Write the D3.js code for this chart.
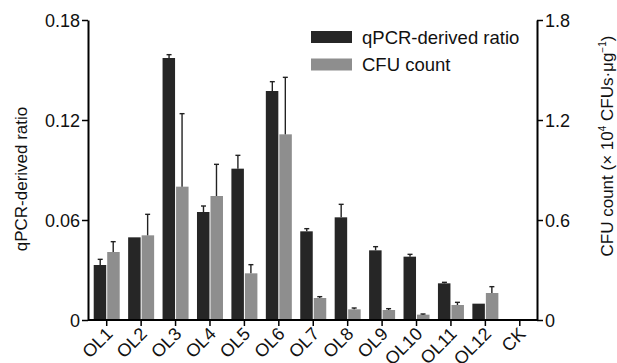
<!DOCTYPE html>
<html>
<head>
<meta charset="utf-8">
<script src="https://cdn.jsdelivr.net/npm/d3@7"></script>
<style>
  body { margin: 0; background: #fff; }
  text { font-family: "Liberation Sans", Arial, sans-serif; }
</style>
</head>
<body>
<script>
// categories and values
const samples = ['OL1', 'OL2', 'OL3', 'OL4', 'OL5', 'OL6', 'OL7', 'OL8', 'OL9', 'OL10', 'OL11', 'OL12', 'CK'];
const qpcrRatio = [0.033, 0.0496, 0.1572, 0.0648, 0.0908, 0.1374, 0.0532, 0.0616, 0.0418, 0.038, 0.022, 0.0098, 0];
const qpcrErr   = [0.0034, 0.0003, 0.002, 0.0036, 0.008, 0.0056, 0.0016, 0.0078, 0.0022, 0.0014, 0.0006, 0.0002, 0];
const cfuCount  = [0.408, 0.508, 0.80, 0.744, 0.28, 1.114, 0.132, 0.064, 0.06, 0.032, 0.09, 0.162, 0];
const cfuErr    = [0.062, 0.126, 0.438, 0.19, 0.052, 0.342, 0.008, 0.008, 0.008, 0.004, 0.016, 0.038, 0];
const leftTicks = [0, 0.06, 0.12, 0.18];
const rightTicks = [0, 0.6, 1.2, 1.8];

const width = 617, height = 363;
const margin = { top: 20, right: 80, bottom: 43, left: 88 };

const svg = d3.select('body').append('svg')
    .attr('width', width)
    .attr('height', height);

const x = d3.scaleBand()
    .domain(samples)
    .range([89.5, 537])
    .padding(0);

const yL = d3.scaleLinear()
    .domain([0, 0.18])
    .range([height - margin.bottom, margin.top]);

const yR = d3.scaleLinear()
    .domain([0, 1.8])
    .range([height - margin.bottom, margin.top]);

const barW = 13;
const dark = '#262626', grey = '#8e8e8e';
const fs = '18px';

const rows = samples.map((s, i) => ({
    s, q: qpcrRatio[i], qe: qpcrErr[i], c: cfuCount[i], ce: cfuErr[i]
}));

// Oszlopok
const g = svg.append('g');
g.selectAll('.bar-q')
    .data(rows)
    .enter()
    .append('rect')
    .attr('class', 'bar-q')
    .attr('x', d => x(d.s) + x.bandwidth() / 2 - barW)
    .attr('y', d => yL(d.q))
    .attr('width', barW - 0.5)
    .attr('height', d => yL(0) - yL(d.q))
    .attr('fill', dark);

g.selectAll('.bar-c')
    .data(rows)
    .enter()
    .append('rect')
    .attr('class', 'bar-c')
    .attr('x', d => x(d.s) + x.bandwidth() / 2 + 0.5)
    .attr('y', d => yR(d.c))
    .attr('width', barW - 0.5)
    .attr('height', d => yR(0) - yR(d.c))
    .attr('fill', grey);

// Hibasávok (csak felfelé)
function errBars(data, cx, yTop, yEnd) {
    const eg = g.append('g')
        .attr('stroke', '#222')
        .attr('stroke-width', 1.4);
    data.filter(d => yEnd(d) < yTop(d) - 0.6).forEach(d => {
        eg.append('line')
            .attr('x1', cx(d)).attr('x2', cx(d))
            .attr('y1', yTop(d)).attr('y2', yEnd(d));
        eg.append('line')
            .attr('x1', cx(d) - 2.5).attr('x2', cx(d) + 2.5)
            .attr('y1', yEnd(d)).attr('y2', yEnd(d));
    });
}
errBars(rows.filter(d => d.q > 0),
    d => x(d.s) + x.bandwidth() / 2 - barW / 2,
    d => yL(d.q), d => yL(d.q + d.qe));
errBars(rows.filter(d => d.c > 0),
    d => x(d.s) + x.bandwidth() / 2 + barW / 2,
    d => yR(d.c), d => yR(d.c + d.ce));

// Tengelyek
const fmt = d => d === 0 ? '0' : String(d);
const axisL = svg.append('g')
    .attr('transform', `translate(${margin.left}, 0)`)
    .call(d3.axisLeft(yL).tickValues(leftTicks).tickFormat(fmt).tickSize(6).tickSizeOuter(0));

const axisR = svg.append('g')
    .attr('transform', `translate(537, 0)`)
    .call(d3.axisRight(yR).tickValues(rightTicks).tickFormat(fmt).tickSize(6).tickSizeOuter(0));

const axisB = svg.append('g')
    .attr('transform', `translate(0, ${yL(0)})`)
    .call(d3.axisBottom(x).tickSize(6).tickSizeOuter(0));

[axisL, axisR, axisB].forEach(a => {
    a.select('.domain').attr('stroke', '#000').attr('stroke-width', 2);
    a.selectAll('.tick line').attr('stroke', '#000').attr('stroke-width', 1.5);
    a.selectAll('.tick text')
        .attr('fill', '#111')
        .style('font-size', fs);
});
axisB.select('.domain').attr('d', `M${margin.left},0H537`);

axisL.selectAll('.tick text').attr('x', -8).attr('dy', '0.36em');
axisR.selectAll('.tick text').attr('x', 8).attr('dy', '0.36em');

// x feliratok 45 fokkal elforgatva
axisB.selectAll('.tick text')
    .attr('text-anchor', 'end')
    .attr('x', 0).attr('y', 0).attr('dy', 0)
    .attr('transform', 'translate(7, 15) rotate(-45)');

// Tengelycímek
svg.append('text')
    .attr('transform', `translate(27, ${(yL(0) + yL(0.18)) / 2 + 9}) rotate(-90)`)
    .attr('text-anchor', 'middle')
    .attr('fill', '#111')
    .style('font-size', '17px')
    .text('qPCR-derived ratio');

const rt = svg.append('text')
    .attr('transform', `translate(613, ${(yR(0) + yR(1.8)) / 2 - 24}) rotate(-90)`)
    .attr('text-anchor', 'middle')
    .attr('fill', '#111')
    .style('font-size', '17px');
rt.append('tspan').text('CFU count (× 10');
rt.append('tspan').attr('dy', -7).style('font-size', '10px').text('4');
rt.append('tspan').attr('dy', 7).text(' CFUs·μg');
rt.append('tspan').attr('dy', -7).style('font-size', '10px').text('−1');
rt.append('tspan').attr('dy', 7).text(')');

// Jelmagyarázat
const legend = svg.append('g').attr('transform', 'translate(311, 31)');
[['qPCR-derived ratio', dark], ['CFU count', grey]].forEach(([label, col], i) => {
    legend.append('rect')
        .attr('x', 0).attr('y', i * 27.5)
        .attr('width', 41).attr('height', 12)
        .attr('fill', col);
    legend.append('text')
        .attr('x', 51).attr('y', i * 27.5 + 12.5)
        .attr('fill', '#111')
        .style('font-size', '18.5px')
        .text(label);
});
</script>
</body>
</html>
